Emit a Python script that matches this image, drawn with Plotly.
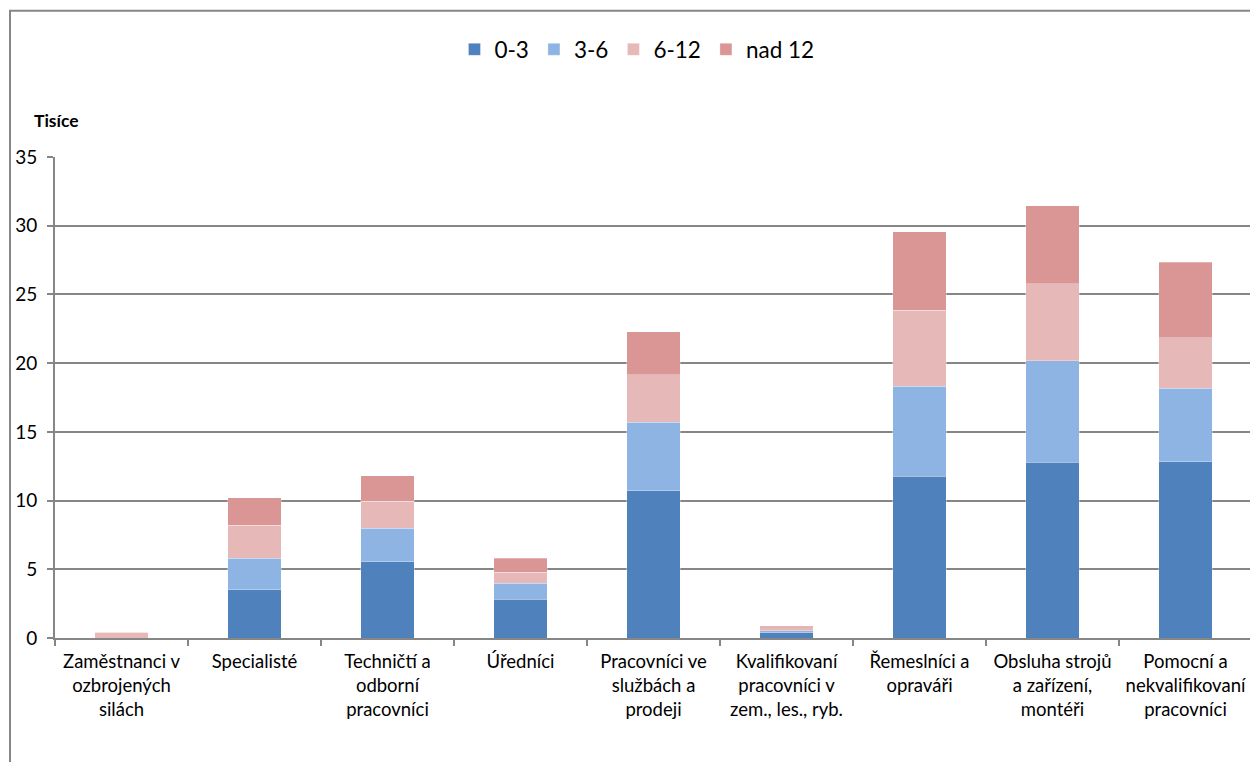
import plotly.graph_objects as go

# Occupation groups (CZ-ISCO main classes)
categories = [
    "Zaměstnanci v<br>ozbrojených<br>silách",
    "Specialisté",
    "Techničtí a<br>odborní<br>pracovníci",
    "Úředníci",
    "Pracovníci ve<br>službách a<br>prodeji",
    "Kvalifikovaní<br>pracovníci v<br>zem., les., ryb.",
    "Řemeslníci a<br>opraváři",
    "Obsluha strojů<br>a zařízení,<br>montéři",
    "Pomocní a<br>nekvalifikovaní<br>pracovníci",
]

# Job seekers by duration of registration (months), in thousands
months_0_3 = [0.0, 3.51, 5.54, 2.83, 10.72, 0.38, 11.76, 12.78, 12.81]
months_3_6 = [0.0, 2.30, 2.43, 1.14, 4.97, 0.15, 6.55, 7.40, 5.36]
months_6_12 = [0.42, 2.40, 1.98, 0.82, 3.47, 0.20, 5.53, 5.61, 3.69]
months_over_12 = [0.0, 2.01, 1.85, 1.00, 3.11, 0.14, 5.71, 5.67, 5.48]

series_names = ["0-3", "3-6", "6-12", "nad 12"]
series_values = [months_0_3, months_3_6, months_6_12, months_over_12]
series_colors = ["#4F81BD", "#8EB4E3", "#E6B9B8", "#D99694"]

y_ticks = [0, 5, 10, 15, 20, 25, 30, 35]

FONT = "Lato, 'Open Sans', sans-serif"
AXIS_GREY = "#868686"

fig = go.Figure()
for name, vals, col in zip(series_names, series_values, series_colors):
    fig.add_trace(go.Bar(
        x=categories, y=vals, name=name,
        marker=dict(color=col, line=dict(color="rgba(255,255,255,0.5)", width=0.6)),
    ))

W, H = 1250, 762
ml, mr, mt, mb = 55, 0, 157, 124
pw, ph = W - ml - mr, H - mt - mb

fig.update_layout(
    width=W, height=H,
    barmode="stack", bargap=0.6,
    margin=dict(l=ml, r=mr, t=mt, b=mb, pad=0),
    paper_bgcolor="white", plot_bgcolor="white",
    font=dict(family=FONT, size=16, color="#000000"),
    showlegend=True,
    legend=dict(
        orientation="h", x=0.487, xanchor="center",
        y=(638.3 - 50) / ph, yanchor="middle",
        font=dict(size=22.5), traceorder="normal",
        itemwidth=30,
    ),
    xaxis=dict(
        type="category",
        range=[-0.5, -0.5 + pw / 133.0],
        showline=True, linecolor=AXIS_GREY, linewidth=2,
        ticks="outside", ticklen=6, tickcolor=AXIS_GREY, tickwidth=1.5,
        tickson="boundaries",
        showgrid=False,
        tickfont=dict(size=18.5),
        tickangle=0,
        ticklabelstandoff=6,
    ),
    yaxis=dict(
        range=[0, 35], tickvals=y_ticks,
        showline=True, linecolor=AXIS_GREY, linewidth=2,
        ticks="outside", ticklen=6, tickcolor=AXIS_GREY, tickwidth=1.5,
        showgrid=True, gridcolor=AXIS_GREY, gridwidth=1.5,
        zeroline=False,
        tickfont=dict(size=19),
        ticklabelstandoff=6,
    ),
    annotations=[dict(
        text="<b>Tisíce</b>", xref="paper", yref="paper",
        x=(32 - ml) / pw, y=(638.3 - 121) / ph,
        xanchor="left", yanchor="middle", showarrow=False,
        font=dict(size=17.5),
    )],
    shapes=[dict(
        type="rect", xref="paper", yref="paper",
        x0=(10 - ml) / pw, x1=1.2, y0=-1.0, y1=(638.3 - 11) / ph,
        line=dict(color=AXIS_GREY, width=2), fillcolor="rgba(0,0,0,0)",
        layer="below",
    )],
)

fig.write_html("out.html")
